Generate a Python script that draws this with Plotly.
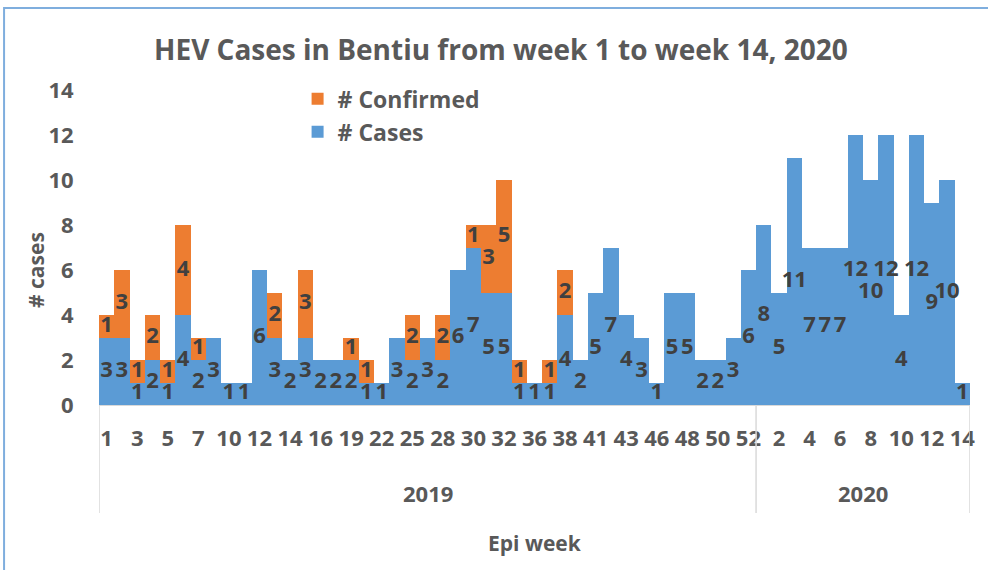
import plotly.graph_objects as go

# ---- data ----
years = ["2019"] * 43 + ["2020"] * 14
weeks = [1, 2, 3, 4, 5, 6, 7, 8, 10, 11, 12, 13, 14, 15, 16, 17, 19, 20, 22, 23,
         25, 26, 28, 29, 30, 31, 32, 33, 36, 37, 38, 39, 41, 42, 43, 44, 46, 47, 48,
         49, 50, 51, 52,
         1, 2, 3, 4, 5, 6, 7, 8, 9, 10, 11, 12, 13, 14]
cases = [3, 3, 1, 2, 1, 4, 2, 3, 1, 1, 6, 3, 2, 3, 2, 2, 2, 1, 1, 3,
         2, 3, 2, 6, 7, 5, 5, 1, 1, 1, 4, 2, 5, 7, 4, 3, 1, 5, 5,
         2, 2, 3, 6,
         8, 5, 11, 7, 7, 7, 12, 10, 12, 4, 12, 9, 10, 1]
confirmed = [1, 3, 1, 2, 1, 4, 1, 0, 0, 0, 0, 2, 0, 3, 0, 0, 1, 1, 0, 0,
             2, 0, 2, 0, 1, 3, 5, 1, 0, 1, 2, 0, 0, 0, 0, 0, 0, 0, 0,
             0, 0, 0, 0,
             0, 0, 0, 0, 0, 0, 0, 0, 0, 0, 0, 0, 0, 0]
year_names = ["2019", "2020"]

BLUE = "#5B9BD5"
ORANGE = "#ED7D31"
TXT = "#595959"
LBL = "#404040"
FONT = "Open Sans"

idx = list(range(len(weeks)))

fig = go.Figure()
fig.add_trace(go.Bar(x=idx, y=cases, name="# Cases", marker=dict(color=BLUE, line=dict(width=0))))
fig.add_trace(go.Bar(x=idx, y=confirmed, name="# Confirmed",
                     marker=dict(color=ORANGE, line=dict(width=0))))

# data labels (centered in each segment)
lx, ly, lt = [], [], []
for i, c, k in zip(idx, cases, confirmed):
    if c:
        lx.append(i); ly.append(c / 2); lt.append(str(c))
    if k:
        lx.append(i); ly.append(c + k / 2); lt.append(str(k))
fig.add_trace(go.Scatter(x=lx, y=ly, text=lt, mode="text", showlegend=False,
                         textposition="middle center", hoverinfo="skip",
                         textfont=dict(family=FONT, size=22, color=LBL, weight="bold")))

# tick labels every other category
tickvals = idx[::2]
ticktext = [str(weeks[i]) for i in tickvals]

# year group positions
bounds = []
for y in year_names:
    ii = [i for i in idx if years[i] == y]
    bounds.append((min(ii), max(ii)))

for lo, hi in bounds:
    fig.add_annotation(x=(lo + hi) / 2, y=-0.279, xref="x", yref="paper", text=years[lo],
                       showarrow=False, font=dict(family=FONT, size=22, color=TXT, weight="bold"),
                       yanchor="middle")
div_x = [bounds[0][0] - 0.5] + [hi + 0.5 for lo, hi in bounds]
for dx in div_x:
    fig.add_shape(type="line", x0=dx, x1=dx, y0=0, y1=-0.343, xref="x", yref="paper",
                  line=dict(color="#D9D9D9", width=1.5))

# chart-area border
fig.add_shape(type="rect", xref="paper", yref="paper", x0=-0.109, x1=1.2, y0=1.26, y1=-0.7,
              line=dict(color="#7FAEDE", width=2), layer="below")

fig.add_annotation(x=0.5, y=-0.438, xref="paper", yref="paper", text="Epi week", showarrow=False,
                   font=dict(family=FONT, size=21, color=TXT, weight="bold"), yanchor="middle")
fig.add_annotation(x=-0.073, y=0.43, xref="paper", yref="paper", text="# cases", showarrow=False,
                   textangle=-90, font=dict(family=FONT, size=21, color=TXT, weight="bold"),
                   xanchor="center", yanchor="middle")

fig.update_layout(
    width=988, height=570,
    barmode="stack", bargap=0,
    plot_bgcolor="white", paper_bgcolor="white",
    margin=dict(l=99, r=18, t=90, b=165),
    title=dict(text="HEV Cases in Bentiu from week 1 to week 14, 2020", x=0.507, xref="container",
               y=1 - 50 / 570, yref="container", xanchor="center", yanchor="middle",
               font=dict(family=FONT, size=28, color=TXT, weight="bold")),
    legend=dict(x=0.228, y=1.04, xanchor="left", yanchor="top", traceorder="reversed",
                font=dict(family=FONT, size=23, color=TXT, weight="bold"),
                bgcolor="rgba(0,0,0,0)", tracegroupgap=0),
    xaxis=dict(range=[-0.5, len(weeks) - 0.5], tickmode="array", tickvals=tickvals, ticktext=ticktext,
               ticks="outside", ticklen=14, tickcolor="rgba(0,0,0,0)", showgrid=False, zeroline=False,
               showline=True, linecolor="#D9D9D9", linewidth=1,
               tickfont=dict(family=FONT, size=22, color=TXT, weight="bold")),
    yaxis=dict(range=[0, 14], dtick=2, showgrid=False, zeroline=False, showline=False,
               ticks="outside", ticklen=20, tickcolor="rgba(0,0,0,0)",
               tickfont=dict(family=FONT, size=22, color=TXT, weight="bold")),
    showlegend=True,
)

fig.write_html("out.html", config={"displayModeBar": False},
               post_script="document.body.style.margin='0';document.body.style.overflow='hidden';")
